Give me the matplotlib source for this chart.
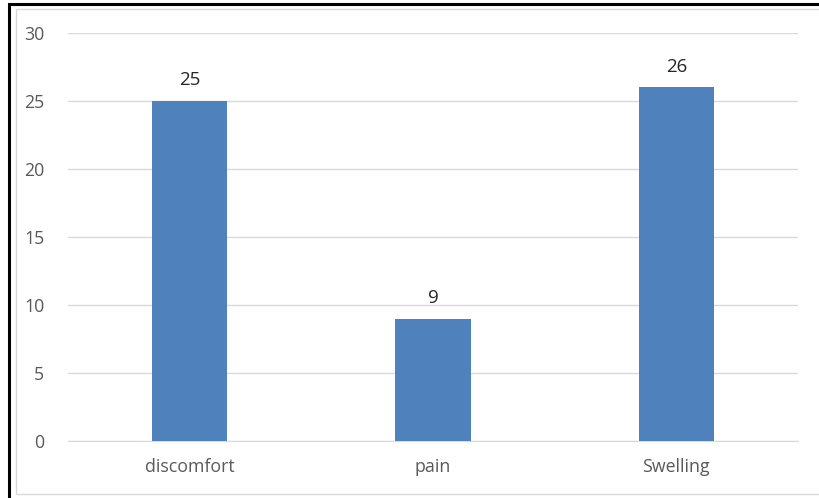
import matplotlib.pyplot as plt
from matplotlib.patches import Rectangle

categories = ["discomfort", "pain", "Swelling"]
counts = [25, 9, 26]
y_ticks = [0, 5, 10, 15, 20, 25, 30]

W, H = 820, 498
fig = plt.figure(figsize=(W / 100, H / 100), dpi=100)
plt.rcParams['font.family'] = ['Open Sans', 'DejaVu Sans']

# outer black frame and inner light frame (right side runs off the image)
fig.patches.append(Rectangle((9 / W, -1), 2, (H - 4) / H + 1, transform=fig.transFigure,
                             fill=False, edgecolor='black', linewidth=2.2))
fig.patches.append(Rectangle((16 / W, 4 / H), 2, (H - 13) / H, transform=fig.transFigure,
                             fill=False, edgecolor='#d9d9d9', linewidth=1.0))

ax = fig.add_axes([68 / W, (H - 441) / H, 730 / W, 408 / H])
x = range(len(categories))
bars = ax.bar(x, counts, width=0.31, color='#4f81bd', zorder=3)

ax.set_xlim(-0.5, 2.5)
ax.set_ylim(0, 30)
ax.set_yticks(y_ticks)
ax.set_xticks(list(x))
ax.set_xticklabels(categories)
ax.grid(axis='y', color='#d9d9d9', linewidth=1.0, zorder=0)
for s in ['top', 'right', 'left']:
    ax.spines[s].set_visible(False)
ax.spines['bottom'].set_color('#d9d9d9')
ax.tick_params(axis='both', length=0, colors='#595959', labelsize=12.8)
ax.tick_params(axis='y', pad=17)
ax.tick_params(axis='x', pad=12)

for bar, v in zip(bars, counts):
    ax.text(bar.get_x() + bar.get_width() / 2, v + 0.85, str(v),
            ha='center', va='bottom', fontsize=13.5, color='#262626')

plt.savefig("out.png", dpi=100)
